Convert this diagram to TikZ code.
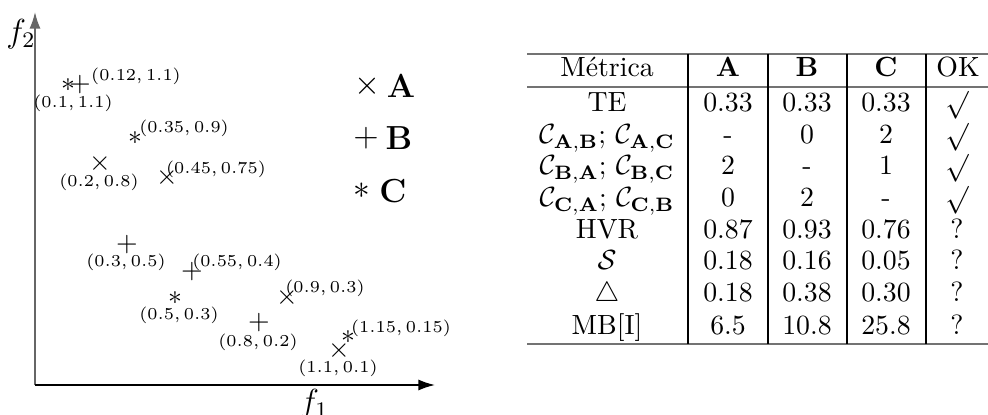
\documentclass[tikz,border=0pt]{standalone}
\usepackage{amsmath,amssymb}
\usetikzlibrary{arrows.meta}
\begin{document}
\begin{tikzpicture}[x=0.36pt,y=-0.36pt,
  mk/.style={inner sep=0pt, font=\normalsize},
  lgmk/.style={inner sep=0pt, font=\large},
  lgtx/.style={inner sep=0pt, font=\large},
  lbl/.style={inner sep=0pt, font=\fontsize{6}{7}\selectfont},
  cell/.style={inner sep=0pt, anchor=base, font=\normalsize},
  tabrule/.style={line width=0.8pt, black!55},
  colrule/.style={line width=0.5pt, black},
  axisline/.style={line width=0.6pt, -{Latex[length=6pt,width=4pt]}}
]
\useasboundingbox (0,0) rectangle (988,415);
% axes
\coordinate (O) at (35,385);
\coordinate (ytop) at (35,12);
\coordinate (xend) at (435,385);
\draw[axisline, black!60] (O) -- (ytop);
\draw[axisline] (O) -- (xend);
\node[inner sep=0pt, font=\large] (f2) at (21,34) {$f_2$};
\node[inner sep=0pt, font=\large] (f1) at (314,404) {$f_1$};
% markers
\node[mk] (c1) at (68,85) {$\ast$};
\node[mk] (b1) at (80,85) {$+$};
\node[mk] (c2) at (135,138) {$\ast$};
\node[mk] (a1) at (100,164) {$\times$};
\node[mk] (a2) at (167,178) {$\times$};
\node[mk] (b2) at (127,245) {$+$};
\node[mk] (b3) at (192,272) {$+$};
\node[mk] (c3) at (175,298) {$\ast$};
\node[mk] (a3) at (287,298) {$\times$};
\node[mk] (b4) at (259,323) {$+$};
\node[mk] (c4) at (348,337) {$\ast$};
\node[mk] (a4) at (339,351) {$\times$};
% labels
\node[lbl] (l1) at (136,76) {$(0.12, 1.1)$};
\node[lbl] (l2) at (73,103) {$(0.1, 1.1)$};
\node[lbl] (l3) at (184,128) {$(0.35, 0.9)$};
\node[lbl] (l4) at (99,182) {$(0.2, 0.8)$};
\node[lbl] (l5) at (216,169) {$(0.45, 0.75)$};
\node[lbl] (l6) at (126,262) {$(0.3, 0.5)$};
\node[lbl] (l7) at (237,262) {$(0.55, 0.4)$};
\node[lbl] (l8) at (179,315) {$(0.5, 0.3)$};
\node[lbl] (l9) at (325,288) {$(0.9, 0.3)$};
\node[lbl] (l10) at (258,342) {$(0.8, 0.2)$};
\node[lbl] (l11) at (401,328) {$(1.15, 0.15)$};
\node[lbl] (l12) at (338,368) {$(1.1, 0.1)$};
% legend
\node[lgmk] (lgA) at (367,86) {$\times$};
\node[lgtx] (lgAt) at (401,86) {$\mathbf{A}$};
\node[lgmk] (lgB) at (366,138) {$+$};
\node[lgtx] (lgBt) at (399,138) {$\mathbf{B}$};
\node[lgmk] (lgC) at (362,191) {$\ast$};
\node[lgtx] (lgCt) at (393,191) {$\mathbf{C}$};
% table rules
\coordinate (tl) at (527,54);
\coordinate (tr) at (988,54);
\coordinate (hl) at (527,87);
\coordinate (hr) at (988,87);
\coordinate (bl) at (527,344);
\coordinate (br) at (988,344);
\draw[tabrule] (tl) -- (tr);
\draw[tabrule] (hl) -- (hr);
\draw[tabrule] (bl) -- (br);
\coordinate (v1t) at (688,54); \coordinate (v1b) at (688,344);
\coordinate (v2t) at (768,54); \coordinate (v2b) at (768,344);
\coordinate (v3t) at (847,54); \coordinate (v3b) at (847,344);
\coordinate (v4t) at (926,54); \coordinate (v4b) at (926,344);
\draw[colrule] (v1t) -- (v1b);
\draw[colrule] (v2t) -- (v2b);
\draw[colrule] (v3t) -- (v3b);
\draw[colrule] (v4t) -- (v4b);
% header
\node[cell] (h0) at (607,77) {Métrica};
\node[cell] (h1) at (728,77) {$\mathbf{A}$};
\node[cell] (h2) at (807,77) {$\mathbf{B}$};
\node[cell] (h3) at (886,77) {$\mathbf{C}$};
\node[cell] (h4) at (958,77) {OK};
% row 1
\node[cell] (r1c0) at (607,112) {TE};
\node[cell] (r1c1) at (728,112) {0.33};
\node[cell] (r1c2) at (807,112) {0.33};
\node[cell] (r1c3) at (886,112) {0.33};
\node[cell] (r1c4) at (957,112) {$\surd$};
% row 2
\node[cell] (r2c0) at (607,144) {$\mathcal{C}_{\mathbf{A},\mathbf{B}}$; $\mathcal{C}_{\mathbf{A},\mathbf{C}}$};
\node[cell] (r2c1) at (728,144) {-};
\node[cell] (r2c2) at (807,144) {0};
\node[cell] (r2c3) at (886,144) {2};
\node[cell] (r2c4) at (957,144) {$\surd$};
% row 3
\node[cell] (r3c0) at (607,175) {$\mathcal{C}_{\mathbf{B},\mathbf{A}}$; $\mathcal{C}_{\mathbf{B},\mathbf{C}}$};
\node[cell] (r3c1) at (728,175) {2};
\node[cell] (r3c2) at (807,175) {-};
\node[cell] (r3c3) at (886,175) {1};
\node[cell] (r3c4) at (957,175) {$\surd$};
% row 4
\node[cell] (r4c0) at (607,207) {$\mathcal{C}_{\mathbf{C},\mathbf{A}}$; $\mathcal{C}_{\mathbf{C},\mathbf{B}}$};
\node[cell] (r4c1) at (728,207) {0};
\node[cell] (r4c2) at (807,207) {2};
\node[cell] (r4c3) at (886,207) {-};
\node[cell] (r4c4) at (957,207) {$\surd$};
% row 5
\node[cell] (r5c0) at (607,239) {HVR};
\node[cell] (r5c1) at (728,239) {0.87};
\node[cell] (r5c2) at (807,239) {0.93};
\node[cell] (r5c3) at (886,239) {0.76};
\node[cell] (r5c4) at (957,239) {?};
% row 6
\node[cell] (r6c0) at (607,270) {$\mathcal{S}$};
\node[cell] (r6c1) at (728,270) {0.18};
\node[cell] (r6c2) at (807,270) {0.16};
\node[cell] (r6c3) at (886,270) {0.05};
\node[cell] (r6c4) at (957,270) {?};
% row 7
\node[cell] (r7c0) at (607,302) {$\triangle$};
\node[cell] (r7c1) at (728,302) {0.18};
\node[cell] (r7c2) at (807,302) {0.38};
\node[cell] (r7c3) at (886,302) {0.30};
\node[cell] (r7c4) at (957,302) {?};
% row 8
\node[cell] (r8c0) at (607,334) {MB[I]};
\node[cell] (r8c1) at (728,334) {6.5};
\node[cell] (r8c2) at (807,334) {10.8};
\node[cell] (r8c3) at (886,334) {25.8};
\node[cell] (r8c4) at (957,334) {?};
\end{tikzpicture}
\end{document}
